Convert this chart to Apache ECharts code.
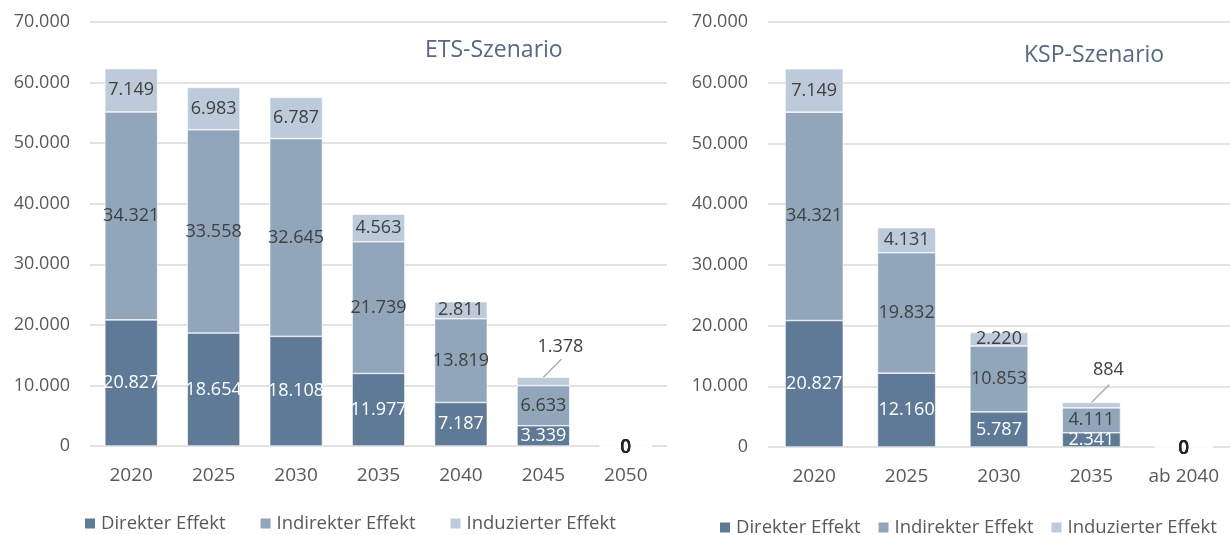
<!DOCTYPE html>
<html>
<head>
<meta charset="utf-8">
<script src="https://cdn.jsdelivr.net/npm/echarts@6/dist/echarts.min.js"></script>
<style>
html,body{margin:0;padding:0;background:#fff;}
#chart{width:1230px;height:535px;}
</style>
</head>
<body>
<div id="chart"></div>
<script>
// Daten ETS-Szenario
var etsYears = ["2020", "2025", "2030", "2035", "2040", "2045", "2050"];
var etsDirekt = [20827, 18654, 18108, 11977, 7187, 3339, 0];
var etsIndirekt = [34321, 33558, 32645, 21739, 13819, 6633, 0];
var etsInduziert = [7149, 6983, 6787, 4563, 2811, 1378, 0];

// Daten KSP-Szenario
var kspYears = ["2020", "2025", "2030", "2035", "ab 2040"];
var kspDirekt = [20827, 12160, 5787, 2341, 0];
var kspIndirekt = [34321, 19832, 10853, 4111, 0];
var kspInduziert = [7149, 4131, 2220, 884, 0];

var seriesNames = ["Direkter Effekt", "Indirekter Effekt", "Induzierter Effekt"];
var colors = ["#5f7a97", "#91a6bb", "#bccada"];

var FONT = "'Open Sans', 'Noto Sans', sans-serif";

function fmt(v) {
	return String(v).replace(/\B(?=(\d{3})+(?!\d))/g, ".");
}

function yAxis(idx) {
	return {
		type: "value",
		gridIndex: idx,
		min: 0,
		max: 70000,
		interval: 10000,
		axisLine: {show: false},
		axisTick: {show: false},
		axisLabel: {
			margin: 20,
			color: "#595959",
			fontSize: 18,
			fontFamily: FONT,
			formatter: fmt
		},
		splitLine: {lineStyle: {color: "#d9d9d9", width: 1.5}}
	};
}

function xAxis(idx, cats) {
	return {
		type: "category",
		gridIndex: idx,
		data: cats,
		axisLine: {show: false},
		axisTick: {show: false},
		axisLabel: {
			margin: 20,
			color: "#595959",
			fontSize: 19,
			fontFamily: FONT
		}
	};
}

function bars(idx, values, name, calloutIdx, gap) {
	var s = {
		name: name,
		type: "bar",
		stack: "s" + idx,
		xAxisIndex: idx,
		yAxisIndex: idx,
		data: values,
		barCategoryGap: gap,
		itemStyle: {
			color: colors[seriesNames.indexOf(name)],
			borderColor: "#fff",
			borderWidth: 0.6
		},
		label: {
			show: true,
			position: "inside",
			fontSize: 18,
			fontFamily: FONT,
			color: name == "Direkter Effekt" ? "#fff" : "#404040",
			formatter: function(p) {
				if (p.value === 0) return "{z|0}";
				return fmt(p.value);
			},
			rich: {
				z: {fontSize: 19, fontFamily: FONT, fontWeight: 600, color: "#262626", padding: [4, 0, 0, 0]}
			}
		}
	};
	if (calloutIdx != null) {
		s.labelLayout = function(p) {
			if (p.dataIndex !== calloutIdx) return {};
			return {dx: 17, dy: -35};
		};
	}
	return s;
}

var chart = echarts.init(document.getElementById("chart"));
var option = {
	animation: false,
	title: [{
		text: "ETS-Szenario",
		left: 425,
		top: 39,
		padding: 0,
		textStyle: {color: "#56697f", fontSize: 23, fontWeight: "normal", fontFamily: FONT}
	}, {
		text: "KSP-Szenario",
		left: 1024,
		top: 44,
		padding: 0,
		textStyle: {color: "#56697f", fontSize: 23, fontWeight: "normal", fontFamily: FONT}
	}],
	legend: [{
		data: seriesNames,
		left: 83,
		top: 514,
		padding: 0,
		itemWidth: 12,
		itemHeight: 12,
		itemGap: 33,
		icon: "rect",
		textStyle: {color: "#595959", fontSize: 18.5, fontFamily: FONT}
	}, {
		data: seriesNames,
		left: 718,
		top: 518,
		padding: 0,
		itemWidth: 12,
		itemHeight: 12,
		itemGap: 16,
		icon: "rect",
		textStyle: {color: "#595959", fontSize: 18.5, fontFamily: FONT}
	}],
	grid: [
		{left: 90, right: 563, top: 22, bottom: 89},
		{left: 768, right: 0, top: 22, bottom: 88}
	],
	xAxis: [xAxis(0, etsYears), xAxis(1, kspYears)],
	yAxis: [yAxis(0), yAxis(1)],
	series: [
		bars(0, etsDirekt, seriesNames[0], null, "36%"),
		bars(0, etsIndirekt, seriesNames[1], null, "36%"),
		bars(0, etsInduziert, seriesNames[2], 5, "36%"),
		bars(1, kspDirekt, seriesNames[0], null, "37%"),
		bars(1, kspIndirekt, seriesNames[1], null, "37%"),
		bars(1, kspInduziert, seriesNames[2], 3, "37%")
	]
};
chart.setOption(option);

// Hinweislinien zu den kleinen Segmenten, Startpunkt aus der Achsenskala
function leader(gridIdx, cats, idx, stacks) {
	var total = 0;
	for (var i = 0; i < stacks.length; i++) total += stacks[i][idx];
	var p = chart.convertToPixel({gridIndex: gridIdx}, [cats[idx], total]);
	return {
		type: "line",
		shape: {x1: p[0], y1: p[1], x2: p[0] + 18, y2: p[1] - 18},
		style: {stroke: "#a6a6a6", lineWidth: 1.2}
	};
}
chart.setOption({
	graphic: [
		leader(0, etsYears, 5, [etsDirekt, etsIndirekt, etsInduziert]),
		leader(1, kspYears, 3, [kspDirekt, kspIndirekt, kspInduziert])
	]
});
</script>
</body>
</html>
